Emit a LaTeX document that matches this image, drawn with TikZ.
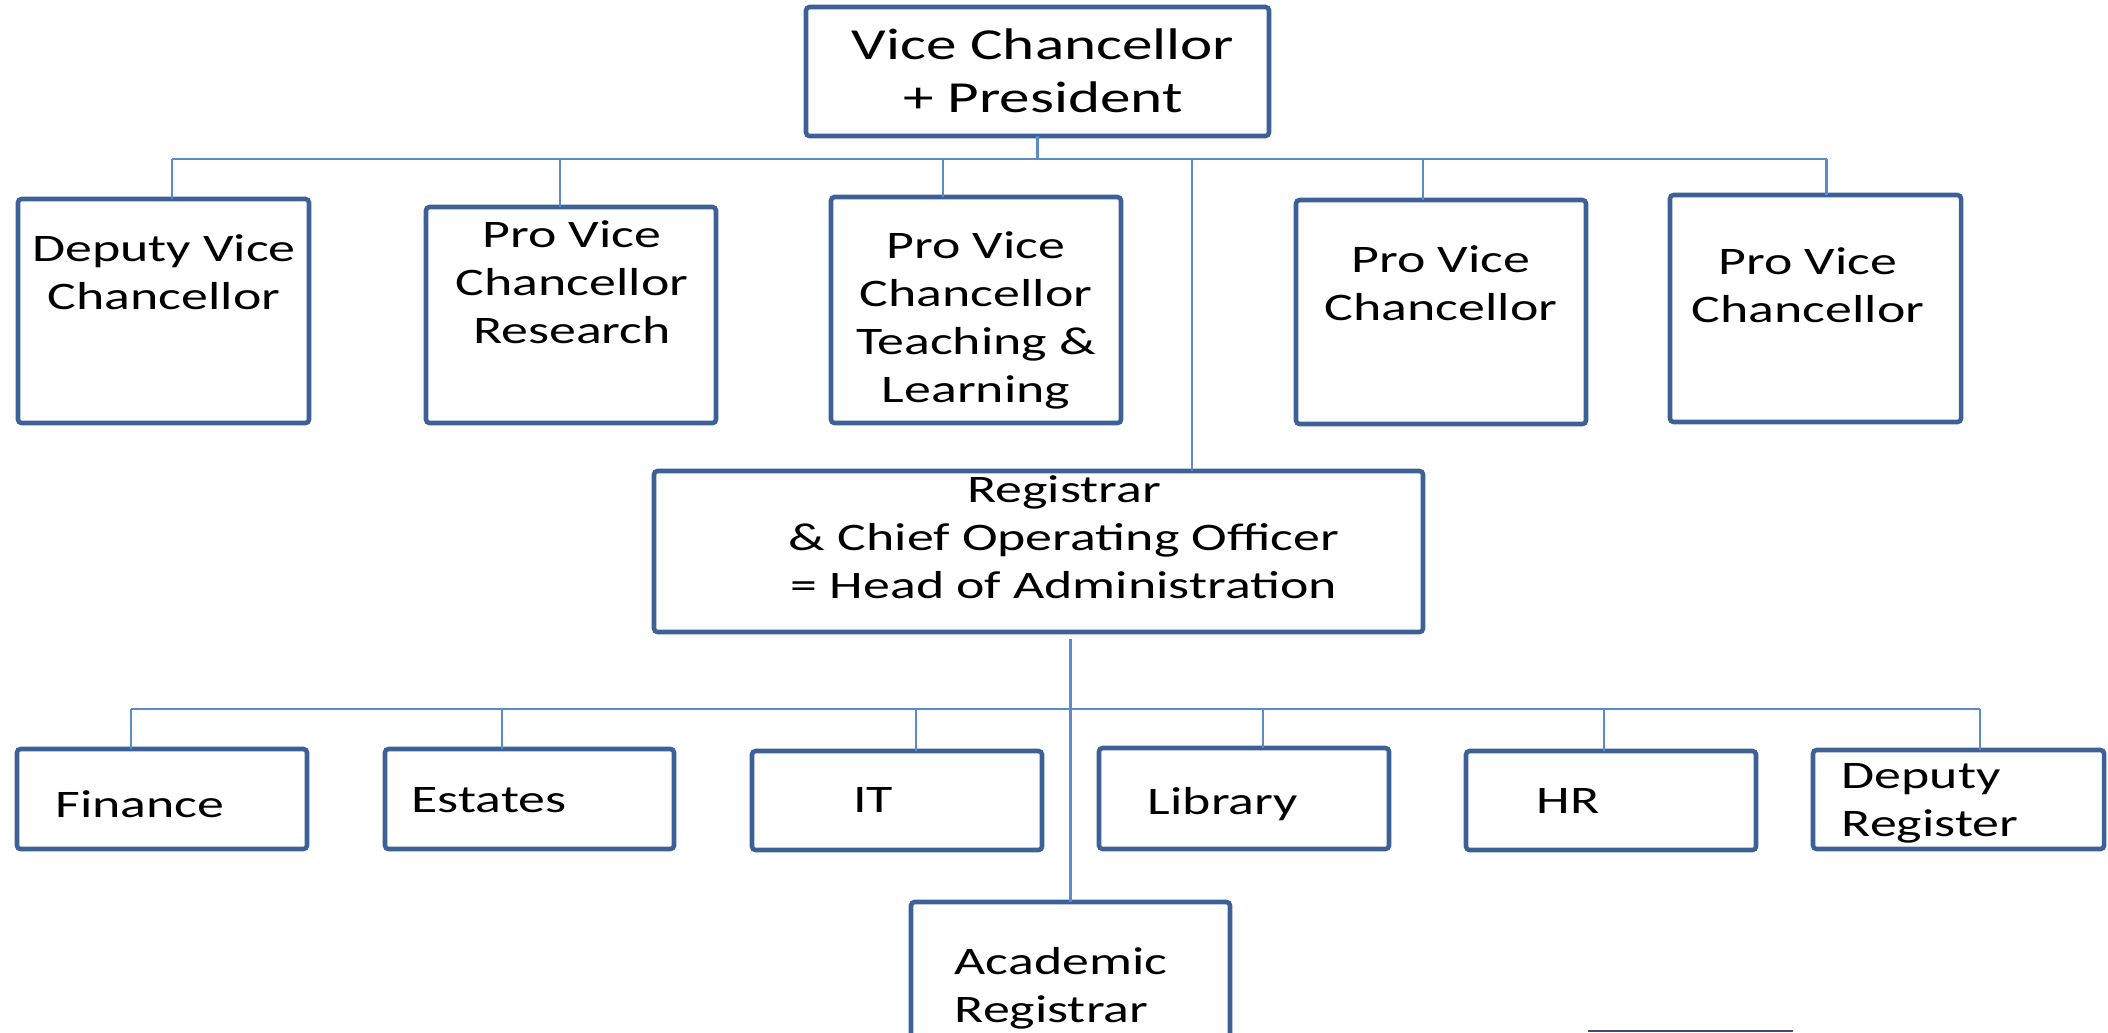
\documentclass[tikz,border=0pt]{standalone}
\usepackage{fontspec}
\setmainfont{Carlito}[FakeStretch=1.38]
\definecolor{boxblue}{HTML}{3D6196}
\definecolor{linkblue}{HTML}{5B8BC9}
\definecolor{barnavy}{HTML}{3B4A82}
\newcommand{\orgfont}{\fontsize{11.1}{13.65}\selectfont}
\newcommand{\chieffont}{\fontsize{12.6}{15.1}\selectfont}
\begin{document}
\begin{tikzpicture}[
        box/.style={draw=boxblue, line width=1.3pt, rounded corners=1pt, inner sep=0pt, outer sep=0pt},
        link/.style={draw=linkblue, line width=0.7pt},
        txt/.style={font=\orgfont, inner sep=0pt, align=center}]
    \useasboundingbox (0,0) rectangle (21.08,-10.32);
    \clip (0,0) rectangle (21.08,-10.32);
    % boxes
    \node[box, minimum width=4.63cm, minimum height=1.29cm] (vc) at (10.375,-0.715) {};
    \node[box, minimum width=2.91cm, minimum height=2.24cm] (dvc) at (1.635,-3.11) {};
    \node[box, minimum width=2.90cm, minimum height=2.16cm] (pvcr) at (5.71,-3.15) {};
    \node[box, minimum width=2.90cm, minimum height=2.26cm] (pvctl) at (9.76,-3.10) {};
    \node[box, minimum width=2.90cm, minimum height=2.24cm] (pvc4) at (14.41,-3.12) {};
    \node[box, minimum width=2.91cm, minimum height=2.27cm] (pvc5) at (18.155,-3.085) {};
    \node[box, minimum width=7.69cm, minimum height=1.61cm] (reg) at (10.385,-5.515) {};
    \node[box, minimum width=2.90cm, minimum height=1.00cm] (fin) at (1.62,-7.99) {};
    \node[box, minimum width=2.89cm, minimum height=1.00cm] (est) at (5.295,-7.99) {};
    \node[box, minimum width=2.90cm, minimum height=0.99cm] (it) at (8.97,-8.005) {};
    \node[box, minimum width=2.90cm, minimum height=1.01cm] (lib) at (12.44,-7.985) {};
    \node[box, minimum width=2.90cm, minimum height=0.99cm] (hr) at (16.11,-8.005) {};
    \node[box, minimum width=2.91cm, minimum height=0.99cm] (dreg) at (19.585,-7.995) {};
    \node[box, minimum width=3.19cm, minimum height=1.43cm] (acad) at (10.705,-9.735) {};
    % texts
    \node[txt, font=\chieffont] (vc-t) at (10.43,-0.71) {Vice Chancellor\\+ President};
    \node[txt] (dvc-t) at (1.64,-2.72) {Deputy Vice\\Chancellor};
    \node[txt] (pvcr-t) at (5.72,-2.825) {Pro Vice\\Chancellor\\Research};
    \node[txt] (pvctl-t) at (9.76,-3.20) {Pro Vice\\Chancellor\\Teaching \&\\Learning};
    \node[txt] (pvc4-t) at (14.41,-2.83) {Pro Vice\\Chancellor};
    \node[txt] (pvc5-t) at (18.08,-2.855) {Pro Vice\\Chancellor};
    \node[txt] (reg-t) at (10.64,-5.37) {Registrar\\\& Chief Operating Officer\\= Head of Administration};
    \node[txt, anchor=base] (fin-t) at (1.40,-8.17) {Finance};
    \node[txt, anchor=base] (est-t) at (4.89,-8.12) {Estates};
    \node[txt, anchor=base] (it-t) at (8.73,-8.12) {IT};
    \node[txt, anchor=base] (lib-t) at (12.23,-8.14) {Library};
    \node[txt, anchor=base] (hr-t) at (15.68,-8.13) {HR};
    \node[txt, align=left, anchor=west] (dreg-t) at (18.41,-8.03) {Deputy\\Register};
    \node[txt, align=left, anchor=west] (acad-t) at (9.54,-9.88) {Academic\\Registrar};
    % upper tree
    \draw[link] (vc.south) -- ++(0,-0.23) coordinate (vcbus);
    \draw[link] ([xshift=0.085cm]dvc.north |- vcbus) -- ([xshift=0.11cm]pvc5.north |- vcbus);
    \foreach \b/\dx in {dvc/0.085, pvcr/-0.11, pvctl/-0.33, pvc4/-0.18, pvc5/0.11}
        \draw[link] ([xshift=\dx cm]\b.north) -- ([xshift=\dx cm]\b.north |- vcbus);
    \draw[link] ([xshift=1.535cm]reg.north) -- ([xshift=1.535cm]reg.north |- vcbus);
    % lower tree
    \draw[link] (acad.north) -- ++(0,2.63);
    \coordinate (lowbus) at (0,-7.09);
    \draw[link] ([xshift=-0.31cm]fin.north |- lowbus) -- ([xshift=0.215cm]dreg.north |- lowbus);
    \foreach \b/\dx in {fin/-0.31, est/-0.275, it/0.19, lib/0.19, hr/-0.07, dreg/0.215}
        \draw[link] ([xshift=\dx cm]\b.north) -- ([xshift=\dx cm]\b.north |- lowbus);
    \draw[barnavy, line width=0.6pt] (15.88,-10.31) -- (17.93,-10.31);
\end{tikzpicture}
\end{document}
